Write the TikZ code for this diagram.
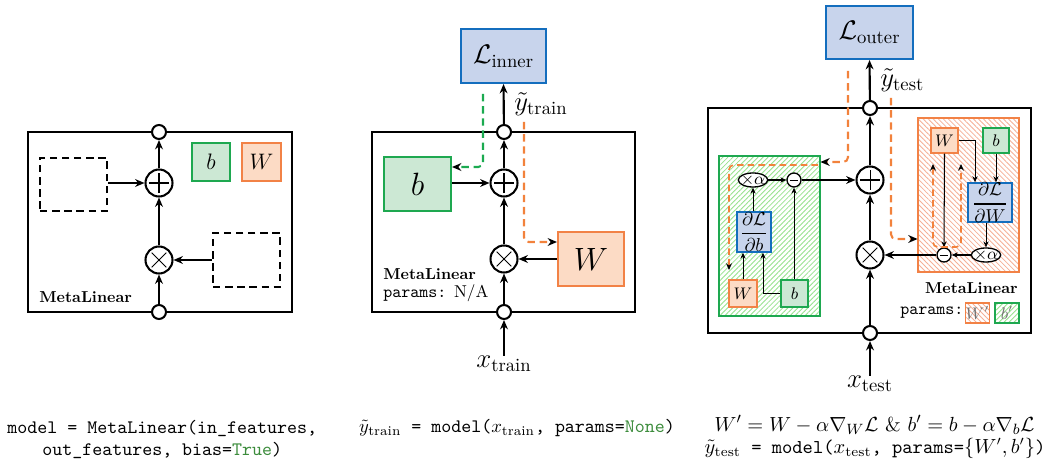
\documentclass[tikz,border=0pt]{standalone}
\usepackage{amsmath}
\usetikzlibrary{arrows.meta,shapes.geometric,patterns.meta,calc}
\definecolor{greenB}{RGB}{30,168,80}
\definecolor{greenF}{RGB}{204,232,212}
\definecolor{orangeB}{RGB}{242,130,70}
\definecolor{orangeF}{RGB}{252,219,197}
\definecolor{blueB}{RGB}{20,110,190}
\definecolor{blueF}{RGB}{200,212,236}
\definecolor{orangeD}{RGB}{242,130,60}
\definecolor{greenD}{RGB}{27,170,80}
\definecolor{hatchG}{RGB}{150,225,140}
\definecolor{hatchO}{RGB}{245,175,150}
\definecolor{codegreen}{RGB}{60,140,60}
\def\pxu{0.536pt}
\newcommand\mlname{\scalebox{0.85}{\normalsize\bfseries MetaLinear}}
\newcommand\mlparams[1]{\scalebox{0.92}{\normalsize #1}}
\tikzset{
  x=0.536pt, y=-0.536pt,
  rbox/.style 2 args={rectangle, minimum width=#1*\pxu, minimum height=#2*\pxu, inner sep=0pt},
  outerbox/.style={draw, line width=1.2pt},
  bbox/.style={draw=greenB, fill=greenF, line width=1.1pt},
  wbox/.style={draw=orangeB, fill=orangeF, line width=1.1pt},
  lbox/.style={draw=blueB, fill=blueF, line width=1.1pt},
  sbbox/.style={draw=greenB, fill=greenF, line width=0.8pt, font=\small},
  swbox/.style={draw=orangeB, fill=orangeF, line width=0.8pt, font=\small},
  slbox/.style={draw=blueB, fill=blueF, line width=0.8pt, font=\normalsize},
  dashbox/.style={draw, line width=1.1pt, dash pattern=on 4pt off 2.5pt},
  ghatch/.style={draw=greenB, line width=1.2pt, pattern={Lines[angle=45,distance=1.9pt,line width=0.45pt]}, pattern color=hatchG},
  ohatch/.style={draw=orangeB, line width=1.2pt, pattern={Lines[angle=-45,distance=1.9pt,line width=0.45pt]}, pattern color=hatchO},
  port/.style={circle, draw, fill=white, line width=1.1pt, minimum size=14*\pxu, inner sep=0pt},
  sumnode/.style={circle, draw, fill=white, line width=1.1pt, minimum size=27*\pxu, inner sep=0pt,
    path picture={\draw[line width=0.55pt] (path picture bounding box.center) +(-5.4pt,0pt) -- +(5.4pt,0pt)
      (path picture bounding box.center) +(0pt,-5.4pt) -- +(0pt,5.4pt);}},
  prodnode/.style={circle, draw, fill=white, line width=1.1pt, minimum size=27*\pxu, inner sep=0pt,
    path picture={\draw[line width=0.55pt] (path picture bounding box.center) +(-3.9pt,-3.9pt) -- +(3.9pt,3.9pt)
      (path picture bounding box.center) +(-3.9pt,3.9pt) -- +(3.9pt,-3.9pt);}},
  minusnode/.style={circle, draw, fill=white, line width=0.7pt, minimum size=14*\pxu, inner sep=0pt,
    path picture={\draw[line width=0.5pt] (path picture bounding box.center) +(-2.2pt,0pt) -- +(2.2pt,0pt);}},
  mulnode/.style={ellipse, draw, fill=white, line width=0.7pt, minimum width=28*\pxu, minimum height=14*\pxu, inner sep=-1pt, font=\small},
  arr/.style={line width=1.15pt, -{Stealth[length=5pt,width=4.2pt]}},
  marr/.style={line width=0.8pt, -{Stealth[length=5pt,width=4.2pt]}},
  tarr/.style={line width=0.55pt, -{Stealth[length=3.2pt,width=2.8pt]}},
  odash/.style={draw=orangeD, line width=1.1pt, dash pattern=on 4pt off 2.5pt, rounded corners=2.5pt, -{Stealth[length=5pt,width=4.2pt,color=black]}},
  gdash/.style={draw=greenD, line width=1.1pt, dash pattern=on 4pt off 2.5pt, rounded corners=2.5pt, -{Stealth[length=5pt,width=4.2pt,color=black]}},
  odashs/.style={draw=orangeD, line width=0.9pt, dash pattern=on 3.5pt off 2.2pt, rounded corners=2.5pt, -{Stealth[length=3.6pt,width=3.2pt,color=black]}},
  odashu/.style={draw=orangeD, line width=0.9pt, dash pattern=on 3.5pt off 2.2pt, rounded corners=2.5pt, {Stealth[length=3.6pt,width=3.2pt,color=black]}-{Stealth[length=3.6pt,width=3.2pt,color=black]}},
  namelbl/.style={inner sep=0pt},
  paramlbl/.style={inner sep=0pt},
  biglbl/.style={font=\Large, inner sep=0pt},
  codelbl/.style={font=\fontsize{10.2}{12.5}\selectfont, inner sep=0pt},
  mathlbl/.style={font=\fontsize{10.8}{13}\selectfont, inner sep=0pt},
}
\begin{document}
\begin{tikzpicture}
\useasboundingbox (0,0) rectangle (1045,459);

% ---------------- left panel ----------------
\node[outerbox, rbox={264}{180}] (Lbox) at (160,222) {};
\node[dashbox, rbox={67}{53}] (Ld1) at (73.5,184.5) {};
\node[dashbox, rbox={67}{54}] (Ld2) at (246.5,260) {};
\node[bbox, rbox={38}{38}, font=\large] (Lb) at (211,162) {$b$};
\node[wbox, rbox={39}{38}, font=\large] (LW) at (261.5,162) {$W$};
\node[port] (Ltop) at (159,132) {};
\node[port] (Lbot) at (159,312) {};
\node[sumnode] (Lplus) at (159,183) {};
\node[prodnode] (Ltimes) at (159,260) {};
\node[namelbl, anchor=west] (Lname) at (39,297) {\mlname};
\draw[arr] (Lbot) -- (Ltimes);
\draw[arr] (Ltimes) -- (Lplus);
\draw[arr] (Lplus) -- (Ltop);
\draw[arr] (Ld1.east |- Lplus) -- (Lplus);
\draw[arr] (Ld2.west |- Ltimes) -- (Ltimes);

% ---------------- middle panel ----------------
\node[outerbox, rbox={263}{180}] (Mbox) at (503.5,222) {};
\node[lbox, rbox={85}{54}, font=\Large] (Lin) at (503.5,56) {$\mathcal{L}_{\text{inner}}$};
\node[bbox, rbox={67}{54}, font=\LARGE] (Mb) at (417.5,184) {$b$};
\node[wbox, rbox={66}{54}, font=\LARGE] (MW) at (591,259) {$W$};
\node[port] (Mtop) at (504,132) {};
\node[port] (Mbot) at (504,312) {};
\node[sumnode] (Mplus) at (504,183) {};
\node[prodnode] (Mtimes) at (504,259) {};
\node[biglbl, anchor=west] (ytrain) at (514,104) {$\tilde{y}_{\text{train}}$};
\node[biglbl] (xtrain) at (504,364) {$x_{\text{train}}$};
\node[namelbl, anchor=west] (Mname) at (383,274) {\mlname};
\node[paramlbl, anchor=west] (Mparam) at (383,293) {\mlparams{\texttt{params:} N/A}};
\draw[arr] (xtrain.north) -- (Mbot);
\draw[arr] (Mbot) -- (Mtimes);
\draw[arr] (Mtimes) -- (Mplus);
\draw[arr] (Mplus) -- (Mtop);
\draw[arr] (Mtop) -- (Lin.south);
\draw[arr] (Mb.east |- Mplus) -- (Mplus);
\draw[arr] (MW.west |- Mtimes) -- (Mtimes);
\coordinate (g1) at (483,94);
\coordinate (g2) at (483,167);
\draw[gdash] (g1) -- (g2) -- (Mb.east |- g2);
\coordinate (o1) at (524,122);
\coordinate (o2) at (524,242);
\draw[odash] (o1) -- (o2) -- (MW.west |- o2);

% ---------------- right panel ----------------
\node[outerbox, rbox={323}{225}] (Rbox) at (869.5,220.5) {};
\node[lbox, rbox={87}{53}, font=\Large] (Lout) at (869.5,32.5) {$\mathcal{L}_{\text{outer}}$};
\node[ghatch, rbox={101}{160}] (Gbox) at (769.5,236) {};
\node[ohatch, rbox={101}{154}] (Obox) at (968.5,195) {};
\node[port] (Rtop) at (870,108) {};
\node[port] (Rbot) at (870,333) {};
\node[sumnode] (Rplus) at (870,180) {};
\node[prodnode] (Rtimes) at (870,255) {};
\node[biglbl, anchor=west] (ytest) at (880,80) {$\tilde{y}_{\text{test}}$};
\node[biglbl] (xtest) at (870,384) {$x_{\text{test}}$};
\draw[arr] (xtest.north) -- (Rbot);
\draw[arr] (Rbot) -- (Rtimes);
\draw[arr] (Rtimes) -- (Rplus);
\draw[arr] (Rplus) -- (Rtop);
\draw[arr] (Rtop) -- (Lout.south);

% green (bias) inner graph
\node[mulnode] (Gmul) at (753,180) {$\times\alpha$};
\node[minusnode] (Gminus) at (794,180) {};
\node[slbox, rbox={34}{40}] (Gdb) at (754,232) {$\genfrac{}{}{0.8pt}{0}{\partial\mathcal{L}}{\partial b}$};
\node[swbox, rbox={28}{27}] (GW) at (743,293.5) {$W$};
\node[sbbox, rbox={27}{27}] (Gb) at (794.5,293.5) {$b$};
\draw[tarr] (Gmul.south |- Gdb.north) -- (Gmul.south);
\draw[tarr] (Gmul.east) -- (Gminus.west);
\draw[tarr] (GW.north) -- (GW.north |- Gdb.south);
\draw[tarr] (Gb.west) -| ($(Gdb.south)+(9,0)$);
\draw[tarr] (Gminus.south |- Gb.north) -- (Gminus.south);
\draw[marr] (Gminus.east) -- (Rplus.west);
\coordinate (gd1) at (818,165);
\coordinate (gd2) at (729,165);
\coordinate (gd3) at (729,270);
\draw[odashs] (gd1) -- (gd2) -- (gd3);

% orange (weight) inner graph
\node[swbox, rbox={27}{25}] (OW) at (944.5,140.5) {$W$};
\node[sbbox, rbox={26}{25}] (Ob) at (996,140.5) {$b$};
\node[slbox, rbox={44}{39}] (OdW) at (990,202.5) {$\genfrac{}{}{0.8pt}{0}{\partial\mathcal{L}}{\partial W}$};
\node[mulnode] (Omul) at (986,255) {$\times\alpha$};
\node[minusnode] (Ominus) at (944,255) {};
\draw[tarr] (OW.south) -- (Ominus.north);
\draw[tarr] (OW.east) -| ($(OdW.north)+(-15,0)$);
\draw[tarr] (Ob.south) -- (Ob.south |- OdW.north);
\draw[tarr] (Omul.north |- OdW.south) -- (Omul.north);
\draw[tarr] (Omul.west) -- (Ominus.east);
\draw[marr] (Ominus.west) -- (Rtimes.east);
\coordinate (ou1) at (933,164);
\coordinate (ou2) at (933,247);
\coordinate (ou3) at (961,247);
\coordinate (ou4) at (961,164);
\draw[odashu] (ou1) -- (ou2) -- (ou3) -- (ou4);

% outer backprop paths
\coordinate (r1) at (848,71);
\coordinate (r2) at (848,162);
\draw[odash] (r1) -- (r2) -- (Gbox.east |- r2);
\coordinate (r3) at (891,98);
\coordinate (r4) at (891,239);
\draw[odash] (r3) -- (r4) -- (Obox.west |- r4);

\node[namelbl, anchor=east] (Rname) at (1018,288) {\mlname};
\node[paramlbl, anchor=west] (Rparam) at (900,313) {\mlparams{\texttt{params:}}};
\node[ohatch, line width=0.8pt, rbox={23}{20}, font=\small, text=black!55] (Wp) at (977.5,313) {$W'$};
\node[ghatch, line width=0.8pt, rbox={24}{20}, font=\small, text=black!55] (bp) at (1007,313) {$b'$};

% ---------------- bottom code ----------------
\node[codelbl, anchor=west] (c1) at (7,428) {\texttt{model = MetaLinear(in\_features,}};
\node[codelbl, anchor=west] (c2) at (42,450) {\texttt{out\_features, bias=\textcolor{codegreen}{True})}};
\node[codelbl] (c3) at (517,428) {$\tilde{y}_{\text{train}}$\texttt{ = model(}$x_{\text{train}}$\texttt{, params=\textcolor{codegreen}{None})}};
\node[mathlbl] (c4) at (874.5,425) {$W' = W - \alpha\nabla_W\mathcal{L}$ \& $b' = b - \alpha\nabla_b\mathcal{L}$};
\node[codelbl, font=\fontsize{10.5}{12.5}\selectfont] (c5) at (875,448) {$\tilde{y}_{\text{test}}$\texttt{ = model(}$x_{\text{test}}$\texttt{, params=}$\{W',b'\}$\texttt{)}};
\end{tikzpicture}
\end{document}
